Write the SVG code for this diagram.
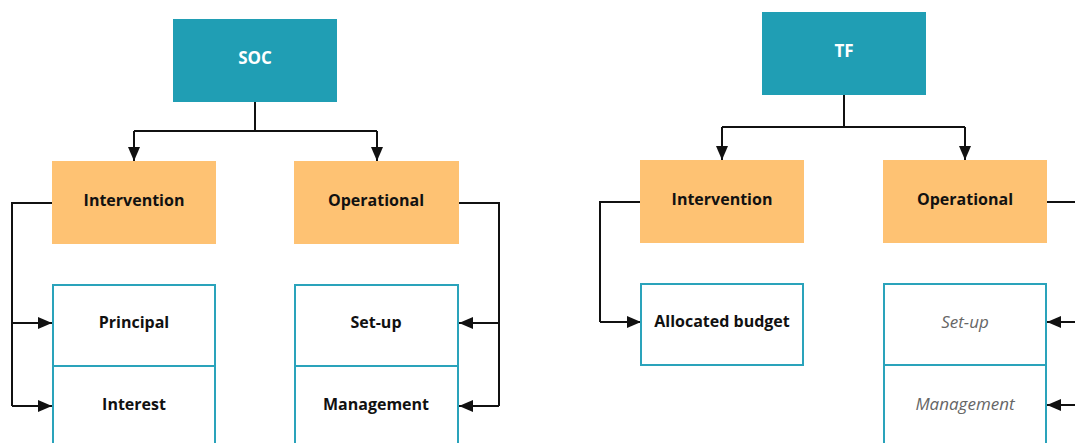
<svg xmlns="http://www.w3.org/2000/svg" width="1075" height="443" viewBox="0 0 1075 443">
  <style>
    .root { fill: #209eb4; }
    .cat { fill: #fec273; }
    .leaf { fill: #ffffff; stroke: #2aa3bb; stroke-width: 2; }
    .lbl { font-family: "Open Sans", "Noto Sans", sans-serif; font-size: 16px; font-weight: bold; fill: #111111; text-anchor: middle; dominant-baseline: central; }
    .root-lbl { fill: #ffffff; font-size: 17px; }
    .muted { font-weight: normal; font-style: italic; fill: #666666; font-size: 17px; }
    .wire { fill: none; stroke: #111111; stroke-width: 2; }
  </style>
  <defs>
    <marker id="arrow" viewBox="0 0 14 12" refX="14" refY="6" markerWidth="14" markerHeight="12" markerUnits="userSpaceOnUse" orient="auto">
      <path d="M0,0 L14,6 L0,12 z" fill="#111111"/>
    </marker>
  </defs>

  <!-- connectors -->
  <g id="connectors" class="wire">
    <!-- SOC tree -->
    <path d="M255,102 V131"/>
    <path d="M134,131 H377"/>
    <path d="M134,131 V161" marker-end="url(#arrow)"/>
    <path d="M377,131 V161" marker-end="url(#arrow)"/>
    <path d="M52,203 H12 V406"/>
    <path d="M12,323 H52" marker-end="url(#arrow)"/>
    <path d="M12,406 H52" marker-end="url(#arrow)"/>
    <path d="M459,203 H499 V406"/>
    <path d="M499,323 H459" marker-end="url(#arrow)"/>
    <path d="M499,406 H459" marker-end="url(#arrow)"/>
    <!-- TF tree -->
    <path d="M844,95 V127"/>
    <path d="M722,127 H965"/>
    <path d="M722,127 V160" marker-end="url(#arrow)"/>
    <path d="M965,127 V160" marker-end="url(#arrow)"/>
    <path d="M640,202 H600 V322"/>
    <path d="M600,322 H641" marker-end="url(#arrow)"/>
    <path d="M1047,202 H1080"/>
    <path d="M1080,322 H1047" marker-end="url(#arrow)"/>
    <path d="M1080,405 H1047" marker-end="url(#arrow)"/>
  </g>

  <!-- SOC -->
  <g id="soc">
    <rect class="root" x="173" y="19" width="164" height="83"/>
    <text class="lbl root-lbl" x="255" y="57">SOC</text>
  </g>
  <g id="soc-intervention">
    <rect class="cat" x="52" y="161" width="164" height="83"/>
    <text class="lbl" x="134" y="200">Intervention</text>
  </g>
  <g id="soc-operational">
    <rect class="cat" x="294" y="161" width="165" height="83"/>
    <text class="lbl" x="376" y="200">Operational</text>
  </g>
  <g id="soc-principal">
    <rect class="leaf" x="53" y="285" width="162" height="81"/>
    <text class="lbl" x="134" y="322">Principal</text>
  </g>
  <g id="soc-interest">
    <rect class="leaf" x="53" y="366" width="162" height="81"/>
    <text class="lbl" x="134" y="404">Interest</text>
  </g>
  <g id="soc-setup">
    <rect class="leaf" x="295" y="285" width="163" height="81"/>
    <text class="lbl" x="376" y="322">Set-up</text>
  </g>
  <g id="soc-management">
    <rect class="leaf" x="295" y="366" width="163" height="81"/>
    <text class="lbl" x="376" y="404">Management</text>
  </g>

  <!-- TF -->
  <g id="tf">
    <rect class="root" x="762" y="12" width="164" height="83"/>
    <text class="lbl root-lbl" x="844" y="50">TF</text>
  </g>
  <g id="tf-intervention">
    <rect class="cat" x="640" y="160" width="164" height="83"/>
    <text class="lbl" x="722" y="199">Intervention</text>
  </g>
  <g id="tf-operational">
    <rect class="cat" x="883" y="160" width="164" height="83"/>
    <text class="lbl" x="965" y="199">Operational</text>
  </g>
  <g id="tf-allocated-budget">
    <rect class="leaf" x="641" y="284" width="162" height="81"/>
    <text class="lbl" x="722" y="321">Allocated budget</text>
  </g>
  <g id="tf-setup">
    <rect class="leaf" x="884" y="284" width="162" height="81"/>
    <text class="lbl muted" x="965" y="321">Set-up</text>
  </g>
  <g id="tf-management">
    <rect class="leaf" x="884" y="365" width="162" height="81"/>
    <text class="lbl muted" x="965" y="403">Management</text>
  </g>
</svg>
